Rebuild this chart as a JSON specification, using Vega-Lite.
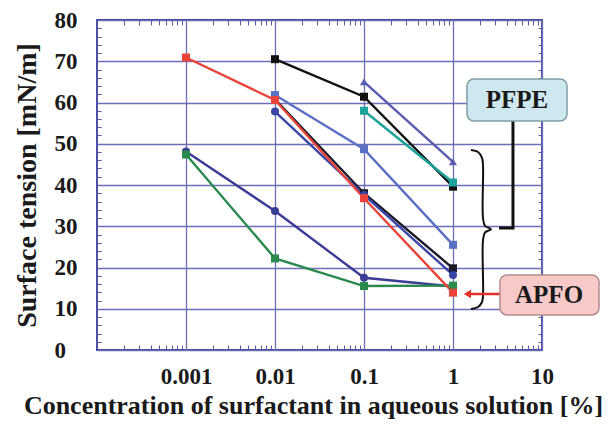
{
  "$schema": "https://vega.github.io/schema/vega-lite/v6.json",
  "width": 445,
  "height": 330,
  "autosize": "none",
  "padding": {"left": 97, "top": 20, "right": 66, "bottom": 79},
  "background": "white",
  "config": {
    "view": {"stroke": "#3c3c9c", "strokeWidth": 1.8},
    "font": "Liberation Serif"
  },
  "datasets": {
    "curves": [
      {"series": "PFPE-1", "conc": 0.01, "tension": 70.5},
      {"series": "PFPE-1", "conc": 0.1, "tension": 61.4},
      {"series": "PFPE-1", "conc": 1, "tension": 39.6},
      {"series": "PFPE-2", "conc": 0.01, "tension": 60.8},
      {"series": "PFPE-2", "conc": 0.1, "tension": 38.0},
      {"series": "PFPE-2", "conc": 1, "tension": 19.8},
      {"series": "PFPE-3", "conc": 0.01, "tension": 61.8},
      {"series": "PFPE-3", "conc": 0.1, "tension": 48.7},
      {"series": "PFPE-3", "conc": 1, "tension": 25.5},
      {"series": "PFPE-4", "conc": 0.1, "tension": 58.0},
      {"series": "PFPE-4", "conc": 1, "tension": 40.6},
      {"series": "PFPE-5", "conc": 0.1, "tension": 65.0},
      {"series": "PFPE-5", "conc": 1, "tension": 45.6},
      {"series": "PFPE-6", "conc": 0.01, "tension": 57.8},
      {"series": "PFPE-6", "conc": 0.1, "tension": 37.6},
      {"series": "PFPE-6", "conc": 1, "tension": 18.2},
      {"series": "PFPE-7", "conc": 0.001, "tension": 48.1},
      {"series": "PFPE-7", "conc": 0.01, "tension": 33.7},
      {"series": "PFPE-7", "conc": 0.1, "tension": 17.5},
      {"series": "PFPE-7", "conc": 1, "tension": 15.4},
      {"series": "PFPE-8", "conc": 0.001, "tension": 47.4},
      {"series": "PFPE-8", "conc": 0.01, "tension": 22.2},
      {"series": "PFPE-8", "conc": 0.1, "tension": 15.5},
      {"series": "PFPE-8", "conc": 1, "tension": 15.6},
      {"series": "APFO", "conc": 0.001, "tension": 70.9},
      {"series": "APFO", "conc": 0.01, "tension": 60.6},
      {"series": "APFO", "conc": 0.1, "tension": 36.8},
      {"series": "APFO", "conc": 1, "tension": 13.9}
    ],
    "boxes": [
      {"label": "PFPE", "x1": 1.436, "x2": 19.1, "y1": 65.7, "y2": 55.5},
      {"label": "APFO", "x1": 3.37, "x2": 43.7, "y1": 18.2, "y2": 8.5}
    ],
    "labels": [
      {"label": "PFPE", "x": 5.24, "y": 60.6},
      {"label": "APFO", "x": 12.0, "y": 13.3}
    ],
    "brace": [
      {"i": 1, "x": 1.592, "y": 48.48},
      {"i": 2, "x": 1.91, "y": 48.0},
      {"i": 3, "x": 2.118, "y": 46.55},
      {"i": 4, "x": 2.173, "y": 44.85},
      {"i": 5, "x": 2.173, "y": 32.0},
      {"i": 6, "x": 2.29, "y": 30.06},
      {"i": 7, "x": 2.673, "y": 29.3},
      {"i": 8, "x": 2.29, "y": 28.5},
      {"i": 9, "x": 2.173, "y": 26.6},
      {"i": 10, "x": 2.173, "y": 13.09},
      {"i": 11, "x": 2.118, "y": 11.64},
      {"i": 12, "x": 1.91, "y": 10.42},
      {"i": 13, "x": 1.592, "y": 9.94}
    ],
    "connector": [
      {"i": 1, "x": 4.72, "y": 55.5},
      {"i": 2, "x": 4.72, "y": 29.6},
      {"i": 3, "x": 3.29, "y": 29.6}
    ],
    "arrow": [
      {"x": 1.45, "x2": 3.37, "y": 13.58}
    ]
  },
  "layer": [
    {
      "data": {"name": "curves"},
      "mark": {"type": "line", "clip": false},
      "encoding": {
        "x": {
          "field": "conc", "type": "quantitative",
          "scale": {"type": "log", "domain": [0.0001, 10], "nice": false},
          "axis": {
            "orient": "bottom",
            "values": [0.0002,0.0003,0.0004,0.0005,0.0006,0.0007,0.0008,0.0009,0.001,0.002,0.003,0.004,0.005,0.006,0.007,0.008,0.009,0.01,0.02,0.03,0.04,0.05,0.06,0.07,0.08,0.09,0.1,0.2,0.3,0.4,0.5,0.6,0.7,0.8,0.9,1,2,3,4,5,6,7,8,9,10],
            "labelExpr": "abs(log(datum.value)/LN10 - round(log(datum.value)/LN10)) < 0.01 ? format(datum.value, '~g') : ''",
            "labelOverlap": false,
            "labelFlush": false,
            "labelFont": "Liberation Serif",
            "labelFontWeight": "bold",
            "labelFontSize": 23,
            "labelColor": "#1a1a1a",
            "labelPadding": 15,
            "tickSize": {"condition": {"test": "abs(log(datum.value)/LN10 - round(log(datum.value)/LN10)) < 0.01", "value": 0}, "value": -5},
            "tickColor": "#5a5aa8",
            "tickWidth": 1,
            "domain": false,
            "grid": true,
            "gridColor": "#6e6eb4",
            "gridWidth": 1.3,
            "gridOpacity": {"condition": {"test": "abs(log(datum.value)/LN10 - round(log(datum.value)/LN10)) < 0.01", "value": 1}, "value": 0},
            "title": "Concentration of surfactant in aqueous solution [%]",
            "titleFont": "Liberation Serif",
            "titleFontWeight": "bold",
            "titleFontSize": 26,
            "titleColor": "#1a1a1a",
            "titlePadding": 4,
            "titleX": 216
          }
        },
        "y": {
          "field": "tension", "type": "quantitative",
          "scale": {"domain": [0, 80], "nice": false, "zero": false},
          "axis": {
            "orient": "left",
            "values": [0,2,4,6,8,10,12,14,16,18,20,22,24,26,28,30,32,34,36,38,40,42,44,46,48,50,52,54,56,58,60,62,64,66,68,70,72,74,76,78,80],
            "labelExpr": "datum.value % 10 == 0 ? datum.value : ''",
            "labelOverlap": false,
            "labelFlush": false,
            "labelFont": "Liberation Serif",
            "labelFontWeight": "bold",
            "labelFontSize": 23,
            "labelColor": "#1a1a1a",
            "labelAlign": "left",
            "labelPadding": 43,
            "tickSize": {"condition": {"test": "datum.value % 10 == 0", "value": 0}, "value": -4},
            "tickColor": "#5a5aa8",
            "tickWidth": 1,
            "domain": false,
            "grid": true,
            "gridColor": "#6e6eb4",
            "gridWidth": 1.3,
            "gridOpacity": {"condition": {"test": "datum.value % 10 == 0", "value": 1}, "value": 0},
            "title": "Surface tension [mN/m]",
            "titleFont": "Liberation Serif",
            "titleFontWeight": "bold",
            "titleFontSize": 28,
            "titleColor": "#1a1a1a",
            "titlePadding": 13
          }
        },
        "color": {
          "field": "series", "type": "nominal", "legend": null,
          "scale": {
            "domain": ["PFPE-1","PFPE-2","PFPE-3","PFPE-4","PFPE-5","PFPE-6","PFPE-7","PFPE-8","APFO"],
            "range": ["#111111","#1a1a2a","#5a70c4","#1ba39a","#5a5ab0","#3a46a6","#3c3c96","#2a8a4e","#e8443a"]
          }
        },
        "strokeWidth": {
          "field": "series", "type": "nominal", "legend": null,
          "scale": {
            "domain": ["PFPE-1","PFPE-2","PFPE-3","PFPE-4","PFPE-5","PFPE-6","PFPE-7","PFPE-8","APFO"],
            "range": [2.4,2.4,2.0,2.0,1.4,2.0,2.4,2.4,2.4]
          }
        }
      }
    },
    {
      "data": {"name": "curves"},
      "mark": {"type": "point", "filled": true, "opacity": 1, "clip": false},
      "encoding": {
        "x": {
          "field": "conc", "type": "quantitative",
          "scale": {"type": "log", "domain": [0.0001, 10], "nice": false},
          "axis": {
            "orient": "top",
            "values": [0.0002,0.0003,0.0004,0.0005,0.0006,0.0007,0.0008,0.0009,0.002,0.003,0.004,0.005,0.006,0.007,0.008,0.009,0.02,0.03,0.04,0.05,0.06,0.07,0.08,0.09,0.2,0.3,0.4,0.5,0.6,0.7,0.8,0.9,2,3,4,5,6,7,8,9],
            "labels": false,
            "tickSize": -5,
            "tickColor": "#5a5aa8",
            "domain": false,
            "grid": false,
            "title": null
          }
        },
        "y": {
          "field": "tension", "type": "quantitative",
          "scale": {"domain": [0, 80], "nice": false, "zero": false},
          "axis": {
            "orient": "right",
            "values": [2,4,6,8,12,14,16,18,22,24,26,28,32,34,36,38,42,44,46,48,52,54,56,58,62,64,66,68,72,74,76,78],
            "labels": false,
            "tickSize": -4,
            "tickColor": "#5a5aa8",
            "domain": false,
            "grid": false,
            "title": null
          }
        },
        "color": {"field": "series", "type": "nominal", "legend": null},
        "shape": {
          "field": "series", "type": "nominal", "legend": null,
          "scale": {
            "domain": ["PFPE-1","PFPE-2","PFPE-3","PFPE-4","PFPE-5","PFPE-6","PFPE-7","PFPE-8","APFO"],
            "range": ["square","square","square","square","triangle-up","circle","circle","square","square"]
          }
        },
        "size": {
          "field": "series", "type": "nominal", "legend": null,
          "scale": {
            "domain": ["PFPE-1","PFPE-2","PFPE-3","PFPE-4","PFPE-5","PFPE-6","PFPE-7","PFPE-8","APFO"],
            "range": [64,64,80,80,30,50,55,40,64]
          }
        }
      }
    },
    {
      "data": {"name": "brace"},
      "mark": {"type": "line", "interpolate": "catmull-rom", "color": "#111111", "strokeWidth": 2, "clip": false},
      "encoding": {
        "x": {"field": "x", "type": "quantitative", "scale": {"type": "log", "domain": [0.0001, 10], "nice": false}, "axis": null},
        "y": {"field": "y", "type": "quantitative", "scale": {"domain": [0, 80], "nice": false, "zero": false}, "axis": null},
        "order": {"field": "i", "type": "quantitative"}
      }
    },
    {
      "data": {"name": "connector"},
      "mark": {"type": "line", "color": "#111111", "strokeWidth": 3, "clip": false},
      "encoding": {
        "x": {"field": "x", "type": "quantitative", "scale": {"type": "log", "domain": [0.0001, 10], "nice": false}, "axis": null},
        "y": {"field": "y", "type": "quantitative", "scale": {"domain": [0, 80], "nice": false, "zero": false}, "axis": null},
        "order": {"field": "i", "type": "quantitative"}
      }
    },
    {
      "data": {"name": "arrow"},
      "mark": {"type": "rule", "color": "#e4302a", "strokeWidth": 2.5, "clip": false},
      "encoding": {
        "x": {"field": "x", "type": "quantitative", "scale": {"type": "log", "domain": [0.0001, 10], "nice": false}, "axis": null},
        "x2": {"field": "x2"},
        "y": {"field": "y", "type": "quantitative", "scale": {"domain": [0, 80], "nice": false, "zero": false}, "axis": null}
      }
    },
    {
      "data": {"name": "arrow"},
      "mark": {"type": "point", "shape": "triangle-left", "filled": true, "color": "#e4302a", "size": 70, "opacity": 1, "clip": false},
      "encoding": {
        "x": {"field": "x", "type": "quantitative", "scale": {"type": "log", "domain": [0.0001, 10], "nice": false}, "axis": null},
        "y": {"field": "y", "type": "quantitative", "scale": {"domain": [0, 80], "nice": false, "zero": false}, "axis": null}
      }
    },
    {
      "data": {"name": "boxes"},
      "mark": {"type": "rect", "cornerRadius": 7, "strokeWidth": 1.5, "clip": false},
      "encoding": {
        "x": {"field": "x1", "type": "quantitative", "scale": {"type": "log", "domain": [0.0001, 10], "nice": false}, "axis": null},
        "x2": {"field": "x2"},
        "y": {"field": "y1", "type": "quantitative", "scale": {"domain": [0, 80], "nice": false, "zero": false}, "axis": null},
        "y2": {"field": "y2"},
        "fill": {"field": "label", "type": "nominal", "legend": null, "scale": {"domain": ["PFPE", "APFO"], "range": ["#cfe7ee", "#f7c9c9"]}},
        "stroke": {"field": "label", "type": "nominal", "legend": null, "scale": {"domain": ["PFPE", "APFO"], "range": ["#7f9ea6", "#b48c8c"]}}
      }
    },
    {
      "data": {"name": "labels"},
      "mark": {"type": "text", "font": "Liberation Serif", "fontWeight": "bold", "fontSize": 25, "color": "#1a1a1a", "align": "center", "baseline": "middle", "clip": false},
      "encoding": {
        "x": {"field": "x", "type": "quantitative", "scale": {"type": "log", "domain": [0.0001, 10], "nice": false}, "axis": null},
        "y": {"field": "y", "type": "quantitative", "scale": {"domain": [0, 80], "nice": false, "zero": false}, "axis": null},
        "text": {"field": "label"}
      }
    }
  ],
  "resolve": {"axis": {"x": "independent", "y": "independent"}}
}
